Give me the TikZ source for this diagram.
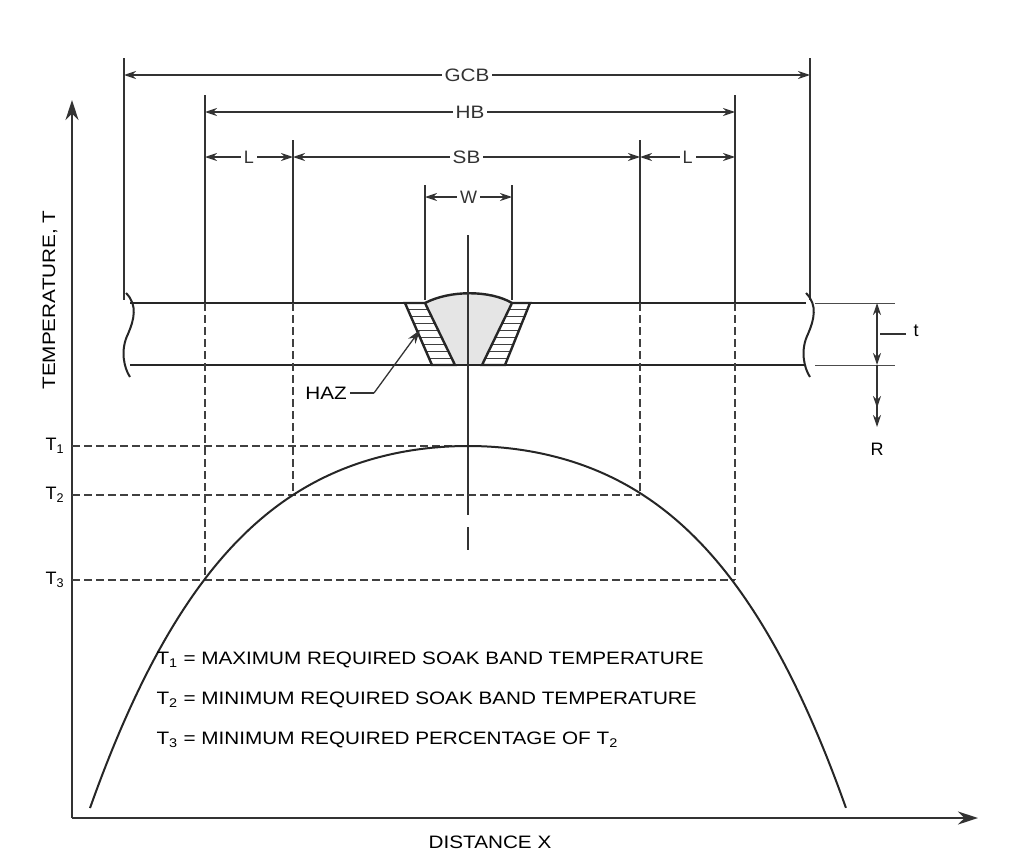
\documentclass[tikz,border=0pt]{standalone}
\usepackage{fontspec}
\usepackage{graphicx}
\setmainfont{Liberation Sans}
\usetikzlibrary{arrows.meta,patterns}
\newcommand{\wtxt}[1]{\scalebox{1.15}[1]{#1}}
\begin{document}
\begin{tikzpicture}[x=1pt,y=-1pt,
  ln/.style={line width=1.3pt,black!80},
  thick/.style={line width=2.4pt,black!85},
  dsh/.style={line width=1.1pt,black!75,dash pattern=on 8pt off 4pt},
  dim/.style={line width=1.3pt,black!80,{Stealth[length=12pt,width=8pt]}-{Stealth[length=12pt,width=8pt]}},
  fnt/.style={font=\fontsize{18}{20}\selectfont},
  lab/.style={fnt,fill=white,inner sep=3pt},
  txt/.style={font=\fontsize{18}{21}\selectfont,anchor=west}]
\useasboundingbox (0,0) rectangle (1024,862);
% axes
\coordinate (O) at (72,818);
\coordinate (Ytop) at (72,100);
\coordinate (Xend) at (978,818);
\draw[line width=2pt,black!80,-{Stealth[length=20pt,width=13pt]}] (O) -- (Ytop);
\draw[line width=2pt,black!80,-{Stealth[length=20pt,width=13pt]}] (O) -- (Xend);
\node[rotate=90,fnt] (ylab) at (50,300) {\wtxt{TEMPERATURE, T}};
\node[fnt] (xlab) at (490,842) {\wtxt{DISTANCE X}};
% extension lines
\draw[ln] (124,58) -- (124,300);
\draw[ln] (810,58) -- (810,300);
\draw[ln] (205,95) -- (205,303);
\draw[ln] (735,95) -- (735,303);
\draw[ln] (293,140) -- (293,303);
\draw[ln] (640,140) -- (640,303);
\draw[ln] (425,185) -- (425,300);
\draw[ln] (512,185) -- (512,300);
% dimension lines
\coordinate (g1) at (124,75); \coordinate (g2) at (810,75);
\draw[dim] (g1) -- node[lab]{\wtxt{GCB}} (g2);
\coordinate (h1) at (205,112); \coordinate (h2) at (735,112);
\draw[dim] (h1) -- node[lab]{\wtxt{HB}} (h2);
\coordinate (l1) at (205,157); \coordinate (l2) at (293,157);
\coordinate (l3) at (640,157); \coordinate (l4) at (735,157);
\draw[dim] (l1) -- node[lab]{L} (l2);
\draw[dim] (l2) -- node[lab]{\wtxt{SB}} (l3);
\draw[dim] (l3) -- node[lab]{L} (l4);
\coordinate (w1) at (425,197); \coordinate (w2) at (512,197);
\draw[dim] (w1) -- node[lab]{W} (w2);
% plate weld region
\fill[black!10] (425,303) .. controls (450,290) and (490,290) .. (512,303) -- (482,365) -- (455,365) -- cycle;
\foreach \i in {1,...,8}{
  \pgfmathsetmacro\yy{303+\i*6.9}
  \pgfmathsetmacro\xa{405+(\yy-303)*27/62}
  \pgfmathsetmacro\xb{425+(\yy-303)*30/62}
  \pgfmathsetmacro\xc{512-(\yy-303)*30/62}
  \pgfmathsetmacro\xd{530-(\yy-303)*25/62}
  \draw[line width=1pt,black!75] (\xa,\yy) -- (\xb,\yy);
  \draw[line width=1pt,black!75] (\xc,\yy) -- (\xd,\yy);
}
\draw[thick] (405,303) -- (432,365) -- (455,365) -- (425,303) -- cycle;
\draw[thick] (530,303) -- (505,365) -- (482,365) -- (512,303) -- cycle;
\draw[thick] (425,303) .. controls (450,290) and (490,290) .. (512,303);
\draw[thick] (130,303) -- (405,303);
\draw[thick] (530,303) -- (806,303);
\draw[thick] (130,365) -- (806,365);
\draw[line width=2pt,black!85] (126,293) .. controls (138,305) and (134,320) .. (128,334) .. controls (120,350) and (124,368) .. (130,377);
\draw[line width=2pt,black!85] (806,293) .. controls (818,305) and (814,320) .. (808,334) .. controls (800,350) and (804,368) .. (810,377);
% centre line
\draw[ln] (468,235) -- (468,515);
\draw[ln] (468,527) -- (468,550);
% HAZ
\node[fnt] (haz) at (326,393) {\wtxt{HAZ}};
\coordinate (hazk) at (374,393);
\coordinate (hazt) at (420,330);
\draw[ln] (haz.east) -- (hazk);
\draw[ln,-{Stealth[length=14pt,width=9pt]}] (hazk) -- (hazt);
% t and R
\draw[line width=1pt,black!70] (815,303) -- (895,303);
\draw[line width=1pt,black!70] (815,365) -- (895,365);
\coordinate (t1) at (877,303); \coordinate (t2) at (877,365); \coordinate (r1) at (877,427);
\draw[dim] (t1) -- (t2);
\draw[ln,-{Stealth[length=12pt,width=8pt]}] (t2) -- (r1);
\draw[ln,-{Stealth[length=12pt,width=8pt]}] (t2) -- (877,408);
\node[fnt] (tl) at (916,331) {t};
\draw[ln] (880,334) -- (906,334);
\node[fnt] (R) at (877,449) {R};
% dashed verticals
\draw[dsh] (205,303) -- (205,580);
\draw[dsh] (735,303) -- (735,580);
\draw[dsh] (293,303) -- (293,495);
\draw[dsh] (640,303) -- (640,495);
% temperature levels
\node[fnt] (T1) at (55,446) {T\textsubscript{1}};
\node[fnt] (T2) at (55,495) {T\textsubscript{2}};
\node[fnt] (T3) at (55,580) {T\textsubscript{3}};
\draw[dsh] (72,446) -- (468,446);
\draw[dsh] (72,495) -- (640,495);
\draw[dsh] (72,580) -- (735,580);
% curve
\draw[line width=2pt,black!85] plot[domain=-3.78:3.78,samples=120,smooth] ({468+100*\x},{446+13.45*\x*\x+0.832*\x*\x*\x*\x});
% legend
\node[txt] (k1) at (153,660) {\wtxt{T\textsubscript{1} = MAXIMUM REQUIRED SOAK BAND TEMPERATURE}};
\node[txt] (k2) at (153,700) {\wtxt{T\textsubscript{2} = MINIMUM REQUIRED SOAK BAND TEMPERATURE}};
\node[txt] (k3) at (153,740) {\wtxt{T\textsubscript{3} = MINIMUM REQUIRED PERCENTAGE OF T\textsubscript{2}}};
\end{tikzpicture}
\end{document}
